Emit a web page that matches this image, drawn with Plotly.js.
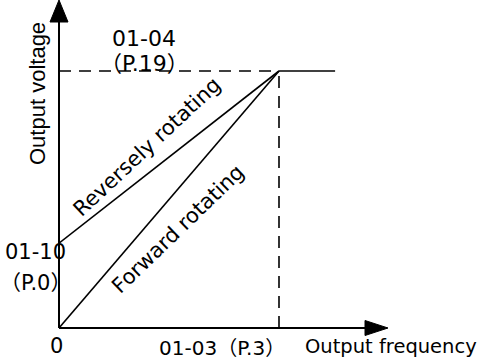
<!DOCTYPE html>
<html>
<head>
<meta charset="utf-8">
<script src="https://cdn.plot.ly/plotly-3.0.1.min.js"></script>
<style>html,body{margin:0;padding:0;background:#fff;}#chart{width:482px;height:360px;}</style>
</head>
<body>
<div id="chart"></div>
<script>
// ---- data (normalized frequency / voltage) ----
const baseFreq = 1.0;          // 01-03 (P.3)
const maxVolt = 1.0;           // 01-04 (P.19)
const startVoltReverse = 0.33; // 01-10 (P.0)
const flatEndFreq = 1.255;     // end of the constant-voltage segment
const forwardX = [0, baseFreq];
const forwardY = [0, maxVolt];
const reverseX = [0, baseFreq];
const reverseY = [startVoltReverse, maxVolt];
const flatX = [baseFreq, flatEndFreq];
const flatY = [maxVolt, maxVolt];
const guideHX = [0, baseFreq];
const guideHY = [maxVolt, maxVolt];
const guideVX = [baseFreq, baseFreq];
const guideVY = [0, maxVolt];
const labelMaxVolt = ['01-04', 'P.19'];
const labelStartVolt = ['01-10', 'P.0'];
const labelOrigin = '0';
const labelBaseFreq = ['01-03', 'P.3'];
const xTitle = 'Output frequency';
const yTitle = 'Output voltage';
const forwardLabel = 'Forward rotating';
const reverseLabel = 'Reversely rotating';

// ---- layout geometry ----
const W = 482, H = 360;
const ML = 59, MR = 94, MT = 0, MB = 32;
const PW = W - ML - MR, PH = H - MT - MB;
function px(x) { return (x - ML) / PW; }
function py(y) { return (H - MB - y) / PH; }

const FONT = 'DejaVu Sans, Arial, sans-serif';
const CJK = 'Noto Sans CJK SC';
const black = '#000000';
const lineStyle = {color: black, width: 1.6};
const dashStyle = {color: black, width: 1.6, dash: '12px,8px'};

function paren(t) {
  return '<span style="font-family:' + CJK + '">（</span>' + t + '<span style="font-family:' + CJK + '">）</span>';
}

const traces = [
  {x: guideHX, y: guideHY, mode: 'lines', line: dashStyle, hoverinfo: 'skip'},
  {x: guideVX, y: guideVY, mode: 'lines', line: dashStyle, hoverinfo: 'skip'},
  {x: flatX, y: flatY, mode: 'lines', line: lineStyle, hoverinfo: 'skip'},
  {x: forwardX, y: forwardY, mode: 'lines', line: lineStyle, hoverinfo: 'skip'},
  {x: reverseX, y: reverseY, mode: 'lines', line: lineStyle, hoverinfo: 'skip'}
];

function tri(a, b, c) {
  return 'M' + px(a[0]) + ',' + py(a[1]) + ' L' + px(b[0]) + ',' + py(b[1]) + ' L' + px(c[0]) + ',' + py(c[1]) + ' Z';
}

const shapes = [
  {type: 'line', xref: 'paper', yref: 'paper', x0: px(59), y0: py(328), x1: px(59), y1: py(20), line: {color: black, width: 2}},
  {type: 'path', xref: 'paper', yref: 'paper', path: tri([59, 0], [50, 22], [68, 22]), fillcolor: black, line: {color: black, width: 1}},
  {type: 'line', xref: 'paper', yref: 'paper', x0: px(59), y0: py(328), x1: px(367), y1: py(328), line: {color: black, width: 2}},
  {type: 'path', xref: 'paper', yref: 'paper', path: tri([388, 328], [365, 320.5], [365, 335.5]), fillcolor: black, line: {color: black, width: 1}}
];

function ann(text, x, y, opts) {
  return Object.assign({
    text: text, xref: 'paper', yref: 'paper', x: px(x), y: py(y),
    xanchor: 'center', yanchor: 'middle', showarrow: false,
    font: {family: FONT, size: 21, color: black}
  }, opts || {});
}

const annotations = [
  ann(labelMaxVolt[0], 144, 38, {font: {family: FONT, size: 22, color: black}}),
  ann(paren(labelMaxVolt[1]), 144, 61, {font: {family: FONT, size: 22, color: black}}),
  ann(labelStartVolt[0], 35, 252),
  ann(paren(labelStartVolt[1]), 35, 281),
  ann(labelOrigin, 56, 346),
  ann(labelBaseFreq[0] + paren(labelBaseFreq[1]), 222, 346, {font: {family: FONT, size: 20, color: black}}),
  ann(xTitle, 303, 346, {xanchor: 'left', font: {family: FONT, size: 19.5, color: black}}),
  ann(yTitle, 37, 94, {textangle: -90, font: {family: 'Liberation Sans, Arial, sans-serif', size: 22, color: black}}),
  ann(reverseLabel, 147, 147, {textangle: -43}),
  ann(forwardLabel, 178, 229, {textangle: -44})
];

const layout = {
  width: W, height: H,
  margin: {l: ML, r: MR, t: MT, b: MB, pad: 0},
  paper_bgcolor: '#ffffff', plot_bgcolor: '#ffffff',
  showlegend: false,
  xaxis: {range: [0, PW / 220], showgrid: false, zeroline: false, showline: false, showticklabels: false, ticks: '', fixedrange: true},
  yaxis: {range: [0, PH / 257], showgrid: false, zeroline: false, showline: false, showticklabels: false, ticks: '', fixedrange: true},
  shapes: shapes,
  annotations: annotations
};

Plotly.newPlot('chart', traces, layout, {displayModeBar: false, staticPlot: true});
</script>
</body>
</html>
